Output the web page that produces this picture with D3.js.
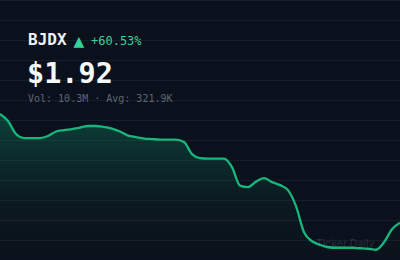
<!DOCTYPE html>
<html><head><meta charset="utf-8">
<script src="https://cdn.jsdelivr.net/npm/d3@7"></script>
<style>html,body{margin:0;padding:0;background:#0b111c;overflow:hidden}</style>
</head><body>
<script>
const ticker = "BJDX";
const price = "$1.92";
const change = "+60.53%";
const volText = "Vol: 10.3M · Avg: 321.9K";
const watermark = "Ticker Daily";
// daily closes
const days = d3.range(51);
const closes = [4.09,3.95,3.69,3.61,3.61,3.61,3.65,3.74,3.77,3.79,3.82,3.85,3.85,3.83,3.80,3.74,3.66,3.63,3.60,3.59,3.58,3.58,3.58,3.53,3.29,3.21,3.20,3.20,3.20,3.03,2.66,2.63,2.74,2.81,2.73,2.67,2.57,2.25,1.73,1.55,1.48,1.43,1.42,1.42,1.42,1.41,1.40,1.38,1.53,1.79,1.92];

const W=400,H=260;
const svg=d3.select("body").append("svg").attr("width",W).attr("height",H);
svg.append("rect").attr("width",W).attr("height",H).attr("fill","#0b111c");
const x=d3.scaleLinear().domain([0,days.length-1]).range([0,W]);
const y=d3.scaleLinear().domain([1.92,4.09]).range([222.7,114]);

// grid
const gy=d3.range(0,H,20);
svg.append("g").selectAll("line").data(gy).join("line")
  .attr("x1",0).attr("x2",W).attr("y1",d=>d+0.5).attr("y2",d=>d+0.5)
  .attr("stroke","#171e2b").attr("stroke-width",1.2);

const defs=svg.append("defs");
const g=defs.append("linearGradient").attr("id","ag").attr("x1",0).attr("x2",0).attr("gradientUnits","userSpaceOnUse")
  .attr("y1",110).attr("y2",260);
g.append("stop").attr("offset",0).attr("stop-color","#10b981").attr("stop-opacity",0.28);
g.append("stop").attr("offset",0.6).attr("stop-color","#10b981").attr("stop-opacity",0.05);
g.append("stop").attr("offset",1).attr("stop-color","#10b981").attr("stop-opacity",0);

const area=d3.area().x((d,i)=>x(i)).y0(H).y1(d=>y(d)).curve(d3.curveMonotoneX);
const line=d3.line().x((d,i)=>x(i)).y(d=>y(d)).curve(d3.curveMonotoneX);
svg.append("path").datum(closes).attr("d",area).attr("fill","url(#ag)");
svg.append("path").datum(closes).attr("d",line).attr("fill","none").attr("stroke","#17b67b").attr("stroke-width",2.3).attr("stroke-linejoin","round");

const mono="'DejaVu Sans Mono', 'Liberation Mono', monospace";
svg.append("text").attr("x",28).attr("y",45).text(ticker)
  .attr("font-family",mono).attr("font-weight","bold").attr("font-size",16).attr("fill","#f1f3f6");
svg.append("text").attr("x",73.5).attr("y",46).text("▲")
  .attr("font-family","'DejaVu Sans', sans-serif").attr("font-size",14).attr("fill","#34d399");
svg.append("text").attr("x",91).attr("y",45).text(change)
  .attr("font-family",mono).attr("font-size",12).attr("fill","#34d399");
svg.append("text").attr("x",27).attr("y",83).text(price)
  .attr("font-family",mono).attr("font-weight","bold").attr("font-size",28.5).attr("fill","#f7f8fa");
svg.append("text").attr("x",28).attr("y",102).text(volText)
  .attr("font-family",mono).attr("font-size",10).attr("fill","#5d6573");
svg.append("text").attr("x",316).attr("y",247).text(watermark)
  .attr("font-family","'Inter', 'Noto Sans', sans-serif").attr("font-size",10.5).attr("fill","#ffffff").attr("fill-opacity",0.12);
</script>
</body></html>
